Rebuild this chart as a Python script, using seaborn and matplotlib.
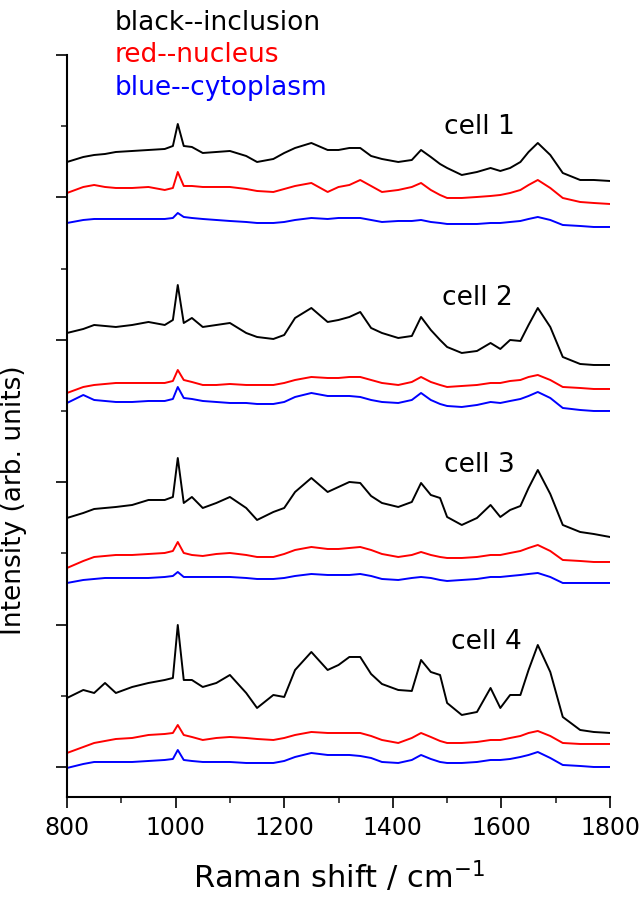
import numpy as np
import pandas as pd
import matplotlib
matplotlib.use("Agg")
import matplotlib.pyplot as plt
from matplotlib.ticker import MultipleLocator, AutoMinorLocator
import seaborn as sns

# ── Data: Raman shift grid (cm^-1) and intensities (arb. units, stacked) ──
shift = [800, 830, 850, 870, 890, 920, 950, 980, 995, 1004,
         1015, 1030, 1050, 1075, 1100, 1130, 1150, 1180, 1200, 1220,
         1250, 1280, 1300, 1320, 1340, 1360, 1380, 1410, 1435, 1452,
         1470, 1487, 1500, 1527, 1555, 1580, 1598, 1616, 1635, 1650,
         1667, 1690, 1713, 1745, 1770, 1800]

cell1_inclusion = [605, 610, 612, 613, 615, 616, 617, 618, 621, 643,
                   621, 620, 614, 615, 616, 611, 605, 608, 614, 619,
                   624, 617, 617, 619, 619, 611, 608, 605, 607, 617,
                   610, 603, 599, 592, 595, 599, 596, 599, 605, 615,
                   624, 612, 594, 587, 587, 586]
cell1_nucleus = [574, 580, 582, 580, 579, 579, 580, 577, 579, 595,
                 581, 581, 580, 580, 580, 578, 576, 575, 578, 581,
                 584, 575, 580, 582, 587, 581, 575, 577, 580, 584,
                 577, 572, 569, 569, 570, 571, 572, 574, 577, 582,
                 587, 579, 569, 565, 564, 563]
cell1_cytoplasm = [544, 547, 548, 548, 548, 548, 548, 548, 549, 554,
                   550, 549, 548, 547, 546, 545, 544, 544, 545, 547,
                   549, 548, 549, 549, 549, 547, 545, 546, 546, 547,
                   545, 544, 543, 543, 543, 544, 544, 545, 546, 548,
                   550, 547, 542, 541, 540, 540]

cell2_inclusion = [434, 438, 442, 441, 440, 442, 445, 442, 447, 482,
                   444, 449, 440, 442, 444, 434, 430, 428, 432, 449,
                   459, 445, 447, 450, 455, 439, 434, 429, 431, 450,
                   437, 427, 420, 414, 416, 424, 418, 427, 426, 442,
                   459, 440, 410, 403, 402, 402]
cell2_nucleus = [374, 380, 382, 383, 384, 384, 384, 384, 386, 397,
                 387, 385, 382, 382, 383, 382, 382, 382, 384, 387,
                 390, 389, 389, 390, 390, 387, 384, 382, 385, 390,
                 385, 382, 380, 381, 382, 384, 384, 386, 387, 390,
                 392, 387, 380, 379, 378, 378]
cell2_cytoplasm = [364, 372, 367, 366, 365, 365, 366, 366, 368, 380,
                   369, 368, 366, 365, 364, 364, 363, 363, 365, 370,
                   374, 371, 371, 371, 370, 367, 365, 364, 367, 374,
                   367, 363, 361, 360, 362, 365, 364, 366, 368, 371,
                   375, 369, 359, 357, 356, 356]

cell3_inclusion = [249, 254, 258, 259, 260, 262, 267, 267, 270, 309,
                   264, 270, 259, 264, 270, 259, 247, 255, 259, 275,
                   289, 275, 280, 285, 284, 271, 264, 260, 265, 284,
                   272, 269, 250, 242, 249, 262, 250, 257, 261, 279,
                   297, 273, 242, 235, 233, 230]
cell3_nucleus = [199, 206, 210, 211, 212, 212, 213, 214, 216, 225,
                 214, 212, 211, 213, 214, 212, 210, 210, 213, 217,
                 220, 218, 218, 219, 220, 217, 213, 210, 212, 215,
                 212, 210, 209, 209, 210, 212, 212, 214, 216, 219,
                 222, 216, 207, 206, 205, 205]
cell3_cytoplasm = [184, 187, 188, 189, 189, 189, 189, 190, 191, 195,
                   190, 190, 190, 190, 190, 189, 188, 188, 189, 191,
                   193, 192, 192, 192, 193, 191, 188, 187, 189, 190,
                   189, 187, 186, 187, 188, 190, 190, 191, 192, 193,
                   194, 190, 184, 184, 184, 184]

cell4_inclusion = [69, 77, 74, 84, 74, 80, 84, 87, 89, 142,
                   87, 87, 80, 84, 92, 74, 59, 72, 70, 97,
                   115, 97, 102, 110, 110, 93, 83, 77, 76, 107,
                   95, 92, 64, 52, 55, 79, 59, 72, 72, 97,
                   122, 95, 50, 37, 35, 34]
cell4_nucleus = [14, 20, 24, 26, 28, 29, 32, 33, 34, 42,
                 32, 30, 27, 29, 30, 29, 28, 27, 29, 32,
                 35, 34, 34, 34, 34, 31, 27, 24, 29, 34,
                 30, 26, 24, 24, 25, 27, 27, 29, 31, 34,
                 36, 31, 24, 23, 23, 23]
cell4_cytoplasm = [-1, 3, 5, 5, 5, 5, 6, 7, 8, 17,
                   7, 6, 5, 5, 5, 4, 4, 4, 6, 10,
                   14, 12, 12, 12, 11, 9, 5, 4, 7, 12,
                   8, 5, 4, 4, 5, 7, 7, 8, 10, 12,
                   15, 9, 2, 1, 0, 0]

cells = ['cell 1', 'cell 2', 'cell 3', 'cell 4']
regions = ['inclusion', 'nucleus', 'cytoplasm']
colors = {'inclusion': 'black', 'nucleus': 'red', 'cytoplasm': 'blue'}

series = {
    'cell 1': [cell1_inclusion, cell1_nucleus, cell1_cytoplasm],
    'cell 2': [cell2_inclusion, cell2_nucleus, cell2_cytoplasm],
    'cell 3': [cell3_inclusion, cell3_nucleus, cell3_cytoplasm],
    'cell 4': [cell4_inclusion, cell4_nucleus, cell4_cytoplasm],
}

# ── Long-form table for seaborn ───────────────────────────────
rows = []
for c in cells:
    for r, vals in zip(regions, series[c]):
        assert len(vals) == len(shift)
        for s, v in zip(shift, vals):
            rows.append((c, r, s, v))
df = pd.DataFrame(rows, columns=['cell', 'region', 'shift', 'intensity'])
df['trace'] = df['cell'] + '_' + df['region']

# ── Plot ──────────────────────────────────────────────────────
sns.set_style('ticks')
plt.rcParams['font.family'] = ['DejaVu Sans']
plt.rcParams['text.color'] = 'black'
plt.rcParams['axes.labelcolor'] = 'black'

fig = plt.figure(figsize=(6.43, 8.97), dpi=100)
ax = fig.add_axes([0.1042, 0.1115, 0.8445, 0.8272])

sns.lineplot(data=df, x='shift', y='intensity', hue='region',
             units='trace', estimator=None, sort=False,
             palette=colors, legend=False, lw=1.4, ax=ax)

ax.set_xlim(800, 1800)
ax.set_ylim(-30, 712)
ax.xaxis.set_major_locator(MultipleLocator(200))
ax.xaxis.set_minor_locator(MultipleLocator(100))
ax.yaxis.set_major_locator(MultipleLocator(142.4))
ax.yaxis.set_minor_locator(AutoMinorLocator(2))
ax.tick_params(which='major', direction='out', length=8, width=1.2,
               labelsize=17, colors='black', pad=6)
ax.tick_params(which='minor', direction='out', length=4, width=1.2)
ax.tick_params(axis='y', labelleft=False)
sns.despine(ax=ax)
for sp in ['left', 'bottom']:
    ax.spines[sp].set_linewidth(1.5)
    ax.spines[sp].set_color('black')

ax.set_xlabel('Raman shift / cm$^{-1}$', fontsize=22, labelpad=13)
ax.set_ylabel('Intensity (arb. units)', fontsize=19)
ax.yaxis.set_label_coords(-0.074, 0.40)

# cell labels
cell_pos = {'cell 1': (1560, 640), 'cell 2': (1555, 469),
            'cell 3': (1560, 302), 'cell 4': (1572, 125)}
for c in cells:
    x, y = cell_pos[c]
    ax.text(x, y, c, fontsize=19, ha='center', va='center', color='black')

# colour key
fig.text(0.179, 0.974, 'black--inclusion', color='black', fontsize=19, va='center')
fig.text(0.179, 0.939, 'red--nucleus', color='red', fontsize=19, va='center')
fig.text(0.179, 0.902, 'blue--cytoplasm', color='blue', fontsize=19, va='center')

fig.savefig('out.png', dpi=100)
